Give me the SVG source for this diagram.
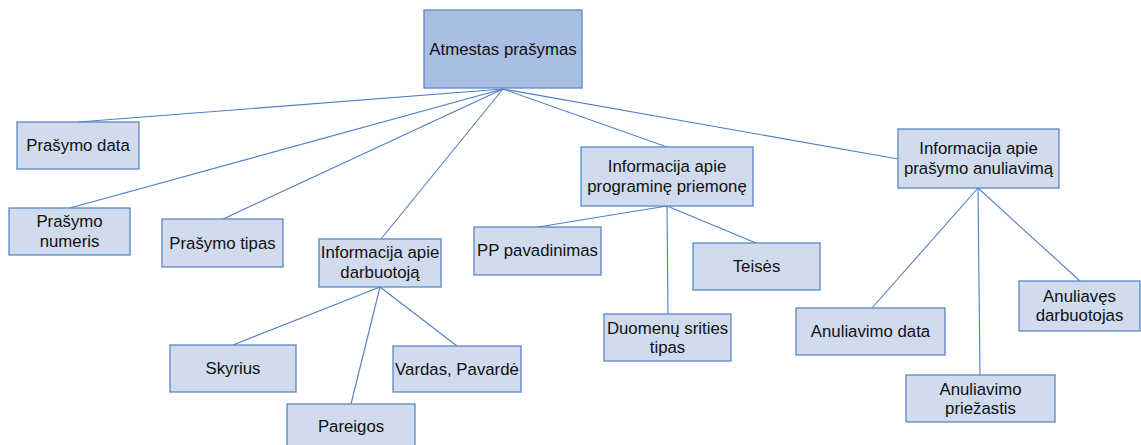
<svg xmlns="http://www.w3.org/2000/svg" width="1141" height="445" viewBox="0 0 1141 445">
  <style>
    .box { fill: #d0dbee; stroke: #5b87c9; stroke-width: 1.3; }
    .root { fill: #a8bee2; stroke: #5b87c9; stroke-width: 1.3; }
    .lbl { font-family: "Liberation Sans", Arial, sans-serif; font-size: 16.8px; fill: #111; text-anchor: middle; dominant-baseline: central; }
    .edge { stroke: #4f7fc4; stroke-width: 1.1; fill: none; }
  </style>
  <rect width="1141" height="445" fill="#ffffff"/>

  <g id="connectors">
    <line class="edge" x1="503" y1="89" x2="78" y2="122"/>
    <line class="edge" x1="503" y1="89" x2="70" y2="208"/>
    <line class="edge" x1="503" y1="89" x2="223" y2="219"/>
    <line class="edge" x1="503" y1="89" x2="381" y2="239"/>
    <line class="edge" x1="503" y1="89" x2="667" y2="147"/>
    <line class="edge" x1="503" y1="89" x2="898" y2="159"/>
    <line class="edge" x1="380" y1="287" x2="233" y2="345"/>
    <line class="edge" x1="380" y1="287" x2="351" y2="404"/>
    <line class="edge" x1="380" y1="287" x2="457" y2="346"/>
    <line class="edge" x1="667" y1="206" x2="538" y2="227"/>
    <line class="edge" x1="667" y1="206" x2="668" y2="314"/>
    <line class="edge" x1="667" y1="206" x2="756" y2="243"/>
    <line class="edge" x1="978" y1="188" x2="872" y2="308"/>
    <line class="edge" x1="978" y1="188" x2="980" y2="375"/>
    <line class="edge" x1="978" y1="188" x2="1080" y2="281"/>
  </g>

  <g id="atmestas-prasymas">
    <rect class="root" x="424" y="10" width="158" height="78"/>
    <text class="lbl" x="503" y="49">Atmestas prašymas</text>
  </g>

  <g id="prasymo-data">
    <rect class="box" x="17" y="122" width="122" height="47"/>
    <text class="lbl" x="78" y="145.5">Prašymo data</text>
  </g>

  <g id="prasymo-numeris">
    <rect class="box" x="9" y="208" width="121" height="47"/>
    <text class="lbl" x="69.5" y="221.5">Prašymo</text>
    <text class="lbl" x="69.5" y="241">numeris</text>
  </g>

  <g id="prasymo-tipas">
    <rect class="box" x="162" y="219" width="121" height="48"/>
    <text class="lbl" x="222.5" y="243">Prašymo tipas</text>
  </g>

  <g id="info-darbuotojas">
    <rect class="box" x="319" y="239" width="122" height="48"/>
    <text class="lbl" x="380" y="252.5">Informacija apie</text>
    <text class="lbl" x="380" y="272">darbuotoją</text>
  </g>

  <g id="skyrius">
    <rect class="box" x="170" y="345" width="126" height="47"/>
    <text class="lbl" x="233" y="368.5">Skyrius</text>
  </g>

  <g id="vardas-pavarde">
    <rect class="box" x="393" y="346" width="128" height="46"/>
    <text class="lbl" x="457" y="369">Vardas, Pavardė</text>
  </g>

  <g id="pareigos">
    <rect class="box" x="287" y="404" width="128" height="48"/>
    <text class="lbl" x="351" y="426">Pareigos</text>
  </g>

  <g id="info-programine-priemone">
    <rect class="box" x="581" y="147" width="172" height="59"/>
    <text class="lbl" x="667" y="166">Informacija apie</text>
    <text class="lbl" x="667" y="186">programinę priemonę</text>
  </g>

  <g id="pp-pavadinimas">
    <rect class="box" x="474" y="227" width="127" height="48"/>
    <text class="lbl" x="537.5" y="250">PP pavadinimas</text>
  </g>

  <g id="teises">
    <rect class="box" x="693" y="243" width="127" height="47"/>
    <text class="lbl" x="756.5" y="266">Teisės</text>
  </g>

  <g id="duomenu-srities-tipas">
    <rect class="box" x="604" y="314" width="127" height="47"/>
    <text class="lbl" x="667.5" y="328">Duomenų srities</text>
    <text class="lbl" x="667.5" y="347">tipas</text>
  </g>

  <g id="info-anuliavimas">
    <rect class="box" x="898" y="129" width="161" height="59"/>
    <text class="lbl" x="978.5" y="148">Informacija apie</text>
    <text class="lbl" x="978.5" y="168">prašymo anuliavimą</text>
  </g>

  <g id="anuliavimo-data">
    <rect class="box" x="796" y="308" width="149" height="47"/>
    <text class="lbl" x="870.5" y="331">Anuliavimo data</text>
  </g>

  <g id="anuliavimo-priezastis">
    <rect class="box" x="906" y="375" width="149" height="47"/>
    <text class="lbl" x="980.5" y="389">Anuliavimo</text>
    <text class="lbl" x="980.5" y="408">priežastis</text>
  </g>

  <g id="anuliaves-darbuotojas">
    <rect class="box" x="1019" y="281" width="121" height="50"/>
    <text class="lbl" x="1079.5" y="296">Anuliavęs</text>
    <text class="lbl" x="1079.5" y="315">darbuotojas</text>
  </g>
</svg>
